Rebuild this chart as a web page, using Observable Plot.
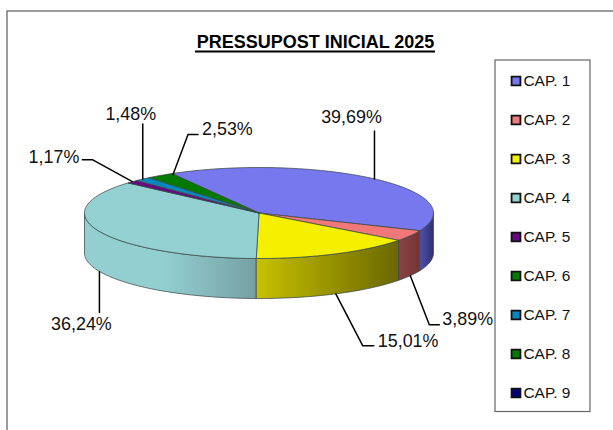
<!DOCTYPE html>
<html><head><meta charset="utf-8">
<script src="https://cdn.jsdelivr.net/npm/d3@7"></script>
<script src="https://cdn.jsdelivr.net/npm/@observablehq/plot@0.6"></script>
<style>html,body{margin:0;padding:0;background:#fff}svg{display:block}</style>
</head><body><div id="chart"></div>
<script>
const categories = ["CAP. 1","CAP. 2","CAP. 3","CAP. 4","CAP. 5","CAP. 6","CAP. 7","CAP. 8","CAP. 9"];
const shares = [39.69,3.89,15.01,36.24,1.17,0,1.48,2.53,0];
const shareLabels = ["39,69%","3,89%","15,01%","36,24%","1,17%",null,"1,48%","2,53%",null];
const topColors = ["#7777ee","#f07878","#f4f000","#93d0d2","#660a80","#007a00","#0a86c0","#007a00","#000080"];
const sideFrom = ["#5050b0","#8a4444","#c8c000","#9ad2d4","#4a0860","#005a00","#086090","#005a00","#000060"];
const sideTo = ["#30306e","#733434","#6a6800","#76a0a4","#300540","#003a00","#054060","#003a00","#000040"];
const firstAngle = -30;
const depth = 40 / 45.5;
const W = 613, H = 430;
const cx = 258.5, cy = 212.5, rx = 174.5, ry = 45.5;

// leader routes: pixel steps from the rim point, then the label's offset and anchor
const leaderSteps = {
  "CAP. 1": {steps:[[0,-48]], label:[-23,-14], anchor:"middle", wall:false},
  "CAP. 2": {steps:[[19,49],[10,0]], label:[3,-5], anchor:"start", wall:true},
  "CAP. 3": {steps:[[27,52],[11,0]], label:[4,-5], anchor:"start", wall:true},
  "CAP. 4": {steps:[[0,41]], label:[-18,12], anchor:"middle", wall:true},
  "CAP. 5": {steps:[[-40,-22],[-10,0]], label:[-3,-2], anchor:"end", wall:false},
  "CAP. 7": {steps:[[0,-55]], label:[-12,-10], anchor:"middle", wall:false},
  "CAP. 8": {start:[13,-1], steps:[[15,-40],[10,0]], label:[4,-5], anchor:"start", wall:false}
};

const rad = d => d * Math.PI / 180;
const rim = (t, r = 1) => [r * Math.sin(rad(t)), -r * Math.cos(rad(t))];
const total = d3.sum(shares);
let running = firstAngle;
const slices = categories.map((name, i) => {
  const a0 = running, a1 = running + shares[i] / total * 360;
  running = a1;
  return {name, i, a0, a1, mid: (a0 + a1) / 2};
});
const arcPts = (a0, a1) => {
  const n = Math.max(2, Math.ceil((a1 - a0) / 1.5));
  return d3.range(n + 1).map(k => a0 + (a1 - a0) * k / n);
};
const visible = slices.filter(s => s.a1 > s.a0);

// top faces
const topRows = visible.flatMap(s => [
  {name: s.name, i: s.i, x: 0, y: 0},
  ...arcPts(s.a0, s.a1).map(t => { const [x, y] = rim(t); return {name: s.name, i: s.i, x, y}; }),
  {name: s.name, i: s.i, x: 0, y: 0}
]);
// front walls: the part of each slice's rim that faces the viewer
const wallRows = [];
const wallBounds = [];
for (const s of visible) {
  for (const shift of [0, 360]) {
    const a0 = Math.max(s.a0 + shift, 90), a1 = Math.min(s.a1 + shift, 270);
    if (a1 <= a0) continue;
    const ts = arcPts(a0, a1);
    const pts = [...ts.map(t => { const [x, y] = rim(t); return {x, y}; }),
      ...ts.slice().reverse().map(t => { const [x, y] = rim(t); return {x, y: y + depth}; })];
    pts.push(pts[0]);
    pts.forEach(p => wallRows.push({...p, name: s.name, i: s.i}));
    wallBounds.push({i: s.i});
  }
}

const leaderRows = [], labelRows = [];
for (const s of slices) {
  const l = leaderSteps[s.name];
  if (!l) continue;
  const [ux, uy] = rim(s.mid);
  const [sx, sy] = l.start || [0, 0];
  let px = cx + rx * ux + sx, py = cy + ry * (uy + (l.wall ? depth : 0)) + sy;
  leaderRows.push({name: s.name, px, py});
  for (const [dx, dy] of l.steps) { px += dx; py += dy; leaderRows.push({name: s.name, px, py}); }
  labelRows.push({text: shareLabels[s.i], px: px + l.label[0], py: py + l.label[1], anchor: l.anchor});
}

const legendRows = categories.map((name, i) => ({name, i}));
const legendY = i => 80.5 + i * 39;

const gradients = () => {
  const svgNS = "http://www.w3.org/2000/svg";
  const defs = document.createElementNS(svgNS, "defs");
  wallBounds.forEach(b => {
    const g = document.createElementNS(svgNS, "linearGradient");
    g.setAttribute("id", "wall" + b.i);
    const stops = b.i === 3
      ? [[0, "#93cfd1"], [0.45, "#93cfd1"], [1, sideTo[3]]]
      : [[0, sideFrom[b.i]], [1, sideTo[b.i]]];
    stops.forEach(([o, c]) => {
      const st = document.createElementNS(svgNS, "stop");
      st.setAttribute("offset", o); st.setAttribute("stop-color", c);
      g.appendChild(st);
    });
    defs.appendChild(g);
  });
  return defs;
};

const font = "Liberation Sans, Arial, sans-serif";
const chart = Plot.plot({
  width: W, height: H, margin: 0,
  style: {background: "#fff", fontFamily: font},
  x: {domain: [0, W], range: [0, W], axis: null},
  y: {domain: [0, H], range: [0, H], axis: null},
  marks: [
    gradients,
    // outer frame and legend box
    Plot.rect([{x1: 7, x2: 640, y1: 11, y2: 470}], {x1: "x1", x2: "x2", y1: "y1", y2: "y2", stroke: "#666", strokeWidth: 1.3, fill: "#fff", clip: true}),
    Plot.rect([{x1: 495, x2: 590, y1: 60, y2: 411.5}], {x1: "x1", x2: "x2", y1: "y1", y2: "y2", stroke: "#666", strokeWidth: 1.2, fill: "#fff"}),
    // walls
    ...[3,2,1,0].map(i =>
      Plot.line(wallRows.filter(d => d.i === i), {
        x: d => cx + rx * d.x, y: d => cy + ry * d.y, fill: `url(#wall${i})`,
        stroke: "#3a4a4a", strokeWidth: 1, strokeOpacity: 0.75, curve: "linear"})
    ),
    // top faces
    ...visible.map(s => Plot.line(topRows.filter(d => d.i === s.i), {
      x: d => cx + rx * d.x, y: d => cy + ry * d.y, fill: topColors[s.i],
      stroke: "#3a4a4a", strokeWidth: 1, strokeOpacity: 0.75, curve: "linear"})),
    // leaders and labels
    Plot.line(leaderRows, {x: "px", y: "py", z: "name", stroke: "#000", strokeWidth: 1.5, curve: "linear"}),
    ...["start", "middle", "end"].map(a => Plot.text(labelRows.filter(r => r.anchor === a), {
      x: "px", y: "py", text: "text", textAnchor: a, fontSize: 17.9, fill: "#111", fontFamily: font})),
    // title with its underline
    Plot.text(["PRESSUPOST INICIAL 2025"], {
      x: () => 315, y: () => 41.5, text: d => d, fontSize: 18, fontWeight: "bold", fill: "#000", fontFamily: font}),
    Plot.ruleY([51], {x1: 195, x2: 435, stroke: "#000", strokeWidth: 1.8}),
    // legend
    Plot.dot(legendRows, {x: () => 515.5, y: d => legendY(d.i), symbol: "square", r: 5,
      fill: d => topColors[d.i], stroke: "#111", strokeWidth: 1.8}),
    Plot.text(legendRows, {x: () => 523, y: d => legendY(d.i), text: "name", textAnchor: "start",
      fontSize: 15.4, fill: "#111", fontFamily: font})
  ]
});
document.getElementById("chart").append(chart);
</script></body></html>
